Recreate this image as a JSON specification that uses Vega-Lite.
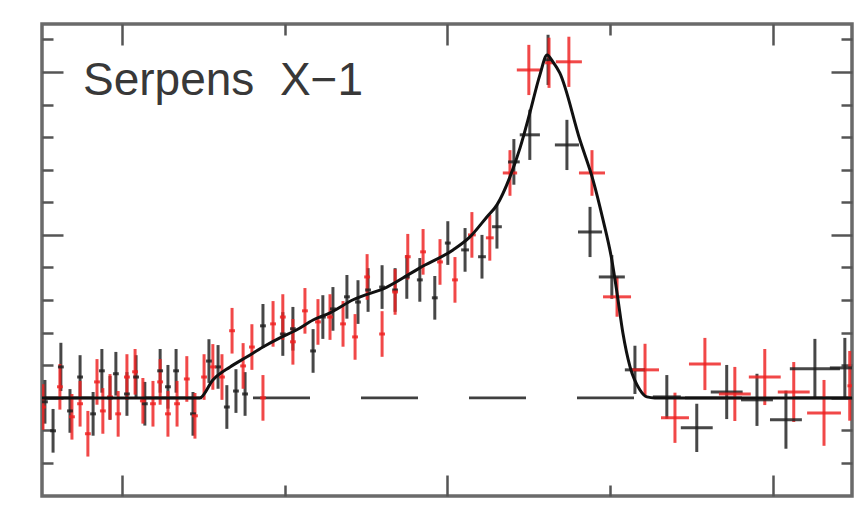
{
  "$schema": "https://vega.github.io/schema/vega-lite/v6.json",
  "autosize": {"type": "none"},
  "padding": {"left": 42, "top": 24, "right": 13, "bottom": 13},
  "width": 810,
  "height": 472,
  "background": "white",
  "config": {
    "view": {"stroke": "#6a6a6a", "strokeWidth": 3.5, "fill": "white"},
    "axis": {"labels": false, "domain": false, "grid": false, "tickColor": "#555555", "tickWidth": 2.5, "title": null}
  },
  "datasets": {
    "pts": [
      {"s":"b","x":4.763,"y":0.988,"ex":0.009,"ey":0.067},
      {"s":"b","x":4.788,"y":0.899,"ex":0.009,"ey":0.067},
      {"s":"b","x":4.812,"y":1.095,"ex":0.009,"ey":0.074},
      {"s":"b","x":4.840,"y":0.960,"ex":0.009,"ey":0.067},
      {"s":"b","x":4.871,"y":1.064,"ex":0.009,"ey":0.067},
      {"s":"b","x":4.911,"y":0.951,"ex":0.009,"ey":0.067},
      {"s":"b","x":4.938,"y":1.083,"ex":0.009,"ey":0.067},
      {"s":"b","x":4.963,"y":1.000,"ex":0.009,"ey":0.067},
      {"s":"b","x":4.981,"y":1.074,"ex":0.009,"ey":0.067},
      {"s":"b","x":5.015,"y":1.012,"ex":0.009,"ey":0.067},
      {"s":"b","x":5.043,"y":1.064,"ex":0.009,"ey":0.067},
      {"s":"b","x":5.070,"y":0.982,"ex":0.009,"ey":0.067},
      {"s":"b","x":5.117,"y":1.083,"ex":0.009,"ey":0.067},
      {"s":"b","x":5.141,"y":1.034,"ex":0.009,"ey":0.067},
      {"s":"b","x":5.166,"y":1.083,"ex":0.009,"ey":0.067},
      {"s":"b","x":5.218,"y":0.951,"ex":0.009,"ey":0.067},
      {"s":"b","x":5.267,"y":1.113,"ex":0.009,"ey":0.067},
      {"s":"b","x":5.295,"y":1.095,"ex":0.009,"ey":0.067},
      {"s":"b","x":5.322,"y":0.972,"ex":0.009,"ey":0.067},
      {"s":"b","x":5.350,"y":1.021,"ex":0.009,"ey":0.067},
      {"s":"b","x":5.378,"y":1.012,"ex":0.009,"ey":0.067},
      {"s":"b","x":5.433,"y":1.221,"ex":0.009,"ey":0.067},
      {"s":"b","x":5.494,"y":1.196,"ex":0.009,"ey":0.067},
      {"s":"b","x":5.525,"y":1.212,"ex":0.009,"ey":0.067},
      {"s":"b","x":5.587,"y":1.144,"ex":0.009,"ey":0.067},
      {"s":"b","x":5.617,"y":1.248,"ex":0.009,"ey":0.067},
      {"s":"b","x":5.648,"y":1.273,"ex":0.009,"ey":0.067},
      {"s":"b","x":5.691,"y":1.310,"ex":0.009,"ey":0.067},
      {"s":"b","x":5.725,"y":1.294,"ex":0.009,"ey":0.067},
      {"s":"b","x":5.756,"y":1.331,"ex":0.009,"ey":0.067},
      {"s":"b","x":5.799,"y":1.340,"ex":0.009,"ey":0.067},
      {"s":"b","x":5.839,"y":1.331,"ex":0.009,"ey":0.067},
      {"s":"b","x":5.875,"y":1.371,"ex":0.009,"ey":0.067},
      {"s":"b","x":5.915,"y":1.362,"ex":0.009,"ey":0.067},
      {"s":"b","x":5.961,"y":1.307,"ex":0.009,"ey":0.067},
      {"s":"b","x":6.001,"y":1.475,"ex":0.009,"ey":0.067},
      {"s":"b","x":6.054,"y":1.454,"ex":0.012,"ey":0.067},
      {"s":"b","x":6.106,"y":1.433,"ex":0.012,"ey":0.067},
      {"s":"b","x":6.152,"y":1.525,"ex":0.015,"ey":0.067},
      {"s":"b","x":6.204,"y":1.724,"ex":0.018,"ey":0.070},
      {"s":"b","x":6.253,"y":1.807,"ex":0.031,"ey":0.077},
      {"s":"b","x":6.309,"y":2.037,"ex":0.012,"ey":0.077},
      {"s":"b","x":6.367,"y":1.776,"ex":0.037,"ey":0.077},
      {"s":"b","x":6.438,"y":1.509,"ex":0.037,"ey":0.077},
      {"s":"b","x":6.505,"y":1.371,"ex":0.040,"ey":0.067},
      {"s":"b","x":6.576,"y":1.086,"ex":0.031,"ey":0.074},
      {"s":"b","x":6.674,"y":1.003,"ex":0.043,"ey":0.067},
      {"s":"b","x":6.766,"y":0.908,"ex":0.049,"ey":0.074},
      {"s":"b","x":6.858,"y":1.018,"ex":0.049,"ey":0.083},
      {"s":"b","x":6.951,"y":0.994,"ex":0.049,"ey":0.080},
      {"s":"b","x":7.040,"y":0.933,"ex":0.049,"ey":0.089},
      {"s":"b","x":7.129,"y":1.089,"ex":0.077,"ey":0.092},
      {"s":"b","x":7.221,"y":1.092,"ex":0.046,"ey":0.092},
      {"s":"r","x":4.757,"y":0.972,"ex":0.009,"ey":0.070},
      {"s":"r","x":4.809,"y":1.034,"ex":0.009,"ey":0.070},
      {"s":"r","x":4.846,"y":0.942,"ex":0.009,"ey":0.070},
      {"s":"r","x":4.871,"y":0.982,"ex":0.009,"ey":0.070},
      {"s":"r","x":4.895,"y":0.890,"ex":0.009,"ey":0.070},
      {"s":"r","x":4.923,"y":1.049,"ex":0.009,"ey":0.070},
      {"s":"r","x":4.941,"y":0.960,"ex":0.009,"ey":0.070},
      {"s":"r","x":4.963,"y":1.003,"ex":0.009,"ey":0.070},
      {"s":"r","x":4.988,"y":0.951,"ex":0.009,"ey":0.070},
      {"s":"r","x":5.015,"y":1.064,"ex":0.009,"ey":0.070},
      {"s":"r","x":5.040,"y":1.080,"ex":0.009,"ey":0.070},
      {"s":"r","x":5.064,"y":0.991,"ex":0.009,"ey":0.070},
      {"s":"r","x":5.095,"y":0.982,"ex":0.009,"ey":0.070},
      {"s":"r","x":5.117,"y":1.049,"ex":0.009,"ey":0.070},
      {"s":"r","x":5.141,"y":0.951,"ex":0.009,"ey":0.070},
      {"s":"r","x":5.169,"y":0.982,"ex":0.009,"ey":0.070},
      {"s":"r","x":5.199,"y":1.058,"ex":0.009,"ey":0.070},
      {"s":"r","x":5.224,"y":0.945,"ex":0.009,"ey":0.070},
      {"s":"r","x":5.252,"y":1.064,"ex":0.009,"ey":0.070},
      {"s":"r","x":5.279,"y":1.095,"ex":0.009,"ey":0.070},
      {"s":"r","x":5.307,"y":1.064,"ex":0.009,"ey":0.070},
      {"s":"r","x":5.338,"y":1.206,"ex":0.009,"ey":0.070},
      {"s":"r","x":5.372,"y":1.098,"ex":0.009,"ey":0.070},
      {"s":"r","x":5.399,"y":1.156,"ex":0.009,"ey":0.070},
      {"s":"r","x":5.433,"y":1.000,"ex":0.009,"ey":0.070},
      {"s":"r","x":5.464,"y":1.227,"ex":0.009,"ey":0.070},
      {"s":"r","x":5.494,"y":1.248,"ex":0.009,"ey":0.070},
      {"s":"r","x":5.525,"y":1.172,"ex":0.009,"ey":0.070},
      {"s":"r","x":5.562,"y":1.267,"ex":0.009,"ey":0.070},
      {"s":"r","x":5.602,"y":1.233,"ex":0.009,"ey":0.070},
      {"s":"r","x":5.639,"y":1.248,"ex":0.009,"ey":0.070},
      {"s":"r","x":5.679,"y":1.227,"ex":0.009,"ey":0.070},
      {"s":"r","x":5.716,"y":1.187,"ex":0.009,"ey":0.070},
      {"s":"r","x":5.753,"y":1.371,"ex":0.009,"ey":0.070},
      {"s":"r","x":5.799,"y":1.196,"ex":0.009,"ey":0.070},
      {"s":"r","x":5.839,"y":1.325,"ex":0.009,"ey":0.070},
      {"s":"r","x":5.878,"y":1.433,"ex":0.009,"ey":0.070},
      {"s":"r","x":5.925,"y":1.448,"ex":0.009,"ey":0.070},
      {"s":"r","x":5.977,"y":1.417,"ex":0.009,"ey":0.070},
      {"s":"r","x":6.023,"y":1.362,"ex":0.009,"ey":0.070},
      {"s":"r","x":6.075,"y":1.500,"ex":0.012,"ey":0.070},
      {"s":"r","x":6.130,"y":1.491,"ex":0.012,"ey":0.070},
      {"s":"r","x":6.192,"y":1.690,"ex":0.022,"ey":0.070},
      {"s":"r","x":6.250,"y":2.006,"ex":0.037,"ey":0.077},
      {"s":"r","x":6.312,"y":2.028,"ex":0.012,"ey":0.077},
      {"s":"r","x":6.373,"y":2.031,"ex":0.040,"ey":0.077},
      {"s":"r","x":6.444,"y":1.690,"ex":0.040,"ey":0.070},
      {"s":"r","x":6.521,"y":1.310,"ex":0.043,"ey":0.061},
      {"s":"r","x":6.607,"y":1.086,"ex":0.043,"ey":0.080},
      {"s":"r","x":6.699,"y":0.939,"ex":0.043,"ey":0.077},
      {"s":"r","x":6.791,"y":1.104,"ex":0.049,"ey":0.080},
      {"s":"r","x":6.883,"y":1.012,"ex":0.049,"ey":0.083},
      {"s":"r","x":6.975,"y":1.064,"ex":0.049,"ey":0.086},
      {"s":"r","x":7.064,"y":1.018,"ex":0.049,"ey":0.092},
      {"s":"r","x":7.157,"y":0.954,"ex":0.052,"ey":0.101},
      {"s":"r","x":7.236,"y":1.037,"ex":0.007,"ey":0.107}
    ],
    "model": [
      {"x":4.754,"y":1.000},{"x":5.239,"y":1.000},{"x":5.279,"y":1.055},{"x":5.332,"y":1.095},
      {"x":5.384,"y":1.126},{"x":5.433,"y":1.156},{"x":5.485,"y":1.184},{"x":5.537,"y":1.209},
      {"x":5.587,"y":1.239},{"x":5.639,"y":1.261},{"x":5.710,"y":1.301},{"x":5.814,"y":1.340},
      {"x":5.915,"y":1.399},{"x":6.017,"y":1.454},{"x":6.069,"y":1.494},{"x":6.121,"y":1.555},
      {"x":6.152,"y":1.592},{"x":6.192,"y":1.678},{"x":6.223,"y":1.767},{"x":6.253,"y":1.874},
      {"x":6.284,"y":1.991},{"x":6.306,"y":2.052},{"x":6.324,"y":2.031},{"x":6.345,"y":1.997},
      {"x":6.407,"y":1.791},{"x":6.447,"y":1.669},{"x":6.478,"y":1.546},{"x":6.505,"y":1.423},
      {"x":6.521,"y":1.322},{"x":6.539,"y":1.199},{"x":6.561,"y":1.095},{"x":6.591,"y":1.025},
      {"x":6.613,"y":1.003},{"x":6.637,"y":1.000},{"x":7.243,"y":1.000}
    ],
    "continuum": [{"c": 1.0}],
    "label": [{"x":4.880,"y":1.929,"t":"Serpens\u00a0 X\u22121"}]
  },
  "resolve": {"axis": {"x": "independent", "y": "independent"}},
  "layer": [
    {
      "data": {"name": "continuum"},
      "mark": {"type": "rule", "strokeDash": [57, 51], "strokeDashOffset": 106, "color": "#404040", "strokeWidth": 2.8},
      "encoding": {
        "y": {"field": "c", "type": "quantitative", "scale": {"domain": [0.699, 2.147], "nice": false, "zero": false}, "axis": null}
      }
    },
    {
      "data": {"name": "pts"},
      "mark": {"type": "errorbar", "clip": true, "rule": {"strokeWidth": 3, "opacity": 0.82}},
      "encoding": {
        "x": {"field": "x", "type": "quantitative", "title": null, "scale": {"domain": [4.754, 7.243], "nice": false, "zero": false},
              "axis": {"orient": "bottom", "values": [5.5, 6.5], "tickSize": -11, "title": null}},
        "y": {"field": "y", "type": "quantitative", "title": null, "scale": {"domain": [0.699, 2.147], "nice": false, "zero": false},
              "axis": {"orient": "left", "values": [0.8, 0.9, 1.1, 1.2, 1.3, 1.4, 1.6, 1.7, 1.8, 1.9, 2.1], "tickSize": -11, "title": null}},
        "yError": {"field": "ey"},
        "color": {"field": "s", "type": "nominal", "scale": {"domain": ["b", "r"], "range": ["#1e1e1e", "#ee2020"]}, "legend": null}
      }
    },
    {
      "data": {"name": "pts"},
      "mark": {"type": "errorbar", "clip": true, "rule": {"strokeWidth": 3, "opacity": 0.82}},
      "encoding": {
        "x": {"field": "x", "type": "quantitative", "title": null, "scale": {"domain": [4.754, 7.243], "nice": false, "zero": false},
              "axis": {"orient": "top", "values": [5.5, 6.5], "tickSize": -11, "title": null}},
        "xError": {"field": "ex"},
        "y": {"field": "y", "type": "quantitative", "title": null, "scale": {"domain": [0.699, 2.147], "nice": false, "zero": false},
              "axis": {"orient": "right", "values": [0.8, 0.9, 1.1, 1.2, 1.3, 1.4, 1.6, 1.7, 1.8, 1.9, 2.1], "tickSize": -11, "title": null}},
        "color": {"field": "s", "type": "nominal", "scale": {"domain": ["b", "r"], "range": ["#1e1e1e", "#ee2020"]}, "legend": null}
      }
    },
    {
      "data": {"name": "model"},
      "mark": {"type": "line", "color": "#111111", "strokeWidth": 3, "interpolate": "monotone"},
      "encoding": {
        "x": {"field": "x", "type": "quantitative", "title": null, "scale": {"domain": [4.754, 7.243], "nice": false, "zero": false},
              "axis": {"orient": "bottom", "values": [5, 6, 7], "tickSize": -21, "title": null}},
        "y": {"field": "y", "type": "quantitative", "title": null, "scale": {"domain": [0.699, 2.147], "nice": false, "zero": false},
              "axis": {"orient": "left", "values": [1.0, 1.5, 2.0], "tickSize": -21, "title": null}}
      }
    },
    {
      "data": {"name": "label"},
      "mark": {"type": "text", "align": "left", "baseline": "alphabetic", "font": "Liberation Sans", "fontSize": 46, "color": "#383838"},
      "encoding": {
        "x": {"field": "x", "type": "quantitative", "title": null, "scale": {"domain": [4.754, 7.243], "nice": false, "zero": false},
              "axis": {"orient": "top", "values": [5, 6, 7], "tickSize": -21, "title": null}},
        "y": {"field": "y", "type": "quantitative", "title": null, "scale": {"domain": [0.699, 2.147], "nice": false, "zero": false},
              "axis": {"orient": "right", "values": [1.0, 1.5, 2.0], "tickSize": -21, "title": null}},
        "text": {"field": "t"}
      }
    }
  ]
}
